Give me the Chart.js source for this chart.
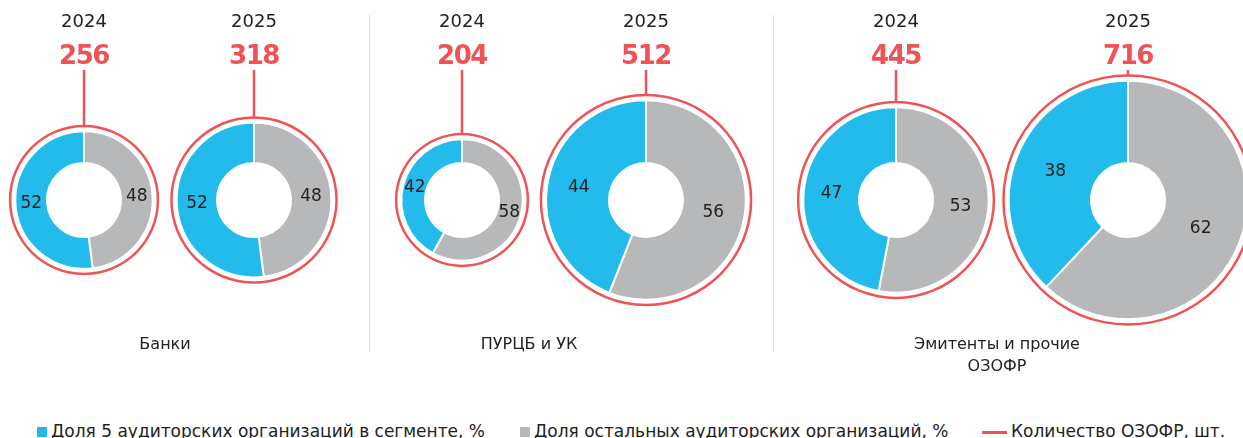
<!DOCTYPE html>
<html>
<head>
<meta charset="utf-8">
<script src="https://cdn.jsdelivr.net/npm/chart.js@4/dist/chart.umd.min.js"></script>
<style>
  html, body { margin: 0; padding: 0; background: #fff; overflow: hidden; }
  body { width: 1243px; height: 438px; position: relative; font-family: "DejaVu Sans", sans-serif; color: #222; }
  canvas { position: absolute; top: 0; }
  .year { position: absolute; top: 10px; font-size: 18px; transform: translateX(-50%); line-height: 22px; }
  .count { position: absolute; top: 38px; font-size: 26px; font-weight: bold; color: #ee5356; letter-spacing: -1.5px; transform: translateX(-50%); line-height: 34px; }
  .group { position: absolute; top: 333px; font-size: 16px; text-align: center; line-height: 22px; transform: translateX(-50%); }
  .sep { position: absolute; top: 15px; width: 1px; height: 337px; background: #dedede; }
  .legend { position: absolute; top: 420px; font-size: 17px; line-height: 22px; white-space: nowrap; }
  .legend i { display: inline-block; vertical-align: middle; margin-right: 4px; }
</style>
</head>
<body>
<div id="wrap"></div>
<script>
// data
const groups = ["Банки", "ПУРЦБ и УК", "Эмитенты и прочие<br>ОЗОФР"]
const years = ["2024", "2025", "2024", "2025", "2024", "2025"]
const counts = [256, 318, 204, 512, 445, 716]
const top5 = [52, 52, 42, 44, 47, 38]
const others = [48, 48, 58, 56, 53, 62]

const legendLabels = [
  "Доля 5 аудиторских организаций в сегменте, %",
  "Доля остальных аудиторских организаций, %",
  "Количество ОЗОФР, шт.",
]

// colors
const blue = "#22bbec"
const gray = "#b7b8ba"
const red = "#ee5356"

// layout
const centersX = [84, 254, 462, 646, 896, 1128]
const groupX = [165, 529, 997]
const sepX = [369, 773]
const holeR = 37
const W = 270
const H = 400

const wrap = document.querySelector("#wrap")

// labels inside slices + line to the number
const slicePlugin = {
  id: "slicePlugin",
  afterDraw(chart) {
    const ctx = chart.ctx
    const meta = chart.getDatasetMeta(2)
    const ring = chart.getDatasetMeta(0).data[0]
    ctx.save()
    ctx.strokeStyle = red
    ctx.lineWidth = 2.5
    ctx.beginPath()
    ctx.moveTo(ring.x, 70)
    ctx.lineTo(ring.x, ring.y - ring.outerRadius + 1)
    ctx.stroke()
    ctx.font = "17px 'DejaVu Sans'"
    ctx.fillStyle = "#222"
    ctx.textAlign = "center"
    ctx.textBaseline = "middle"
    meta.data.forEach((arc, i) => {
      const p = arc.tooltipPosition()
      ctx.fillText(chart.data.datasets[2].data[i], p.x, p.y)
    })
    ctx.restore()
  },
}

for (let i = 0; i < counts.length; i++) {
  const R = 4.7 * Math.sqrt(counts[i])
  const canvas = document.createElement("canvas")
  canvas.width = W
  canvas.height = H
  canvas.style.left = centersX[i] - W / 2 + "px"
  wrap.appendChild(canvas)

  new Chart(canvas, {
    type: "doughnut",
    data: {
      labels: ["others", "top5"],
      datasets: [
        { data: [1], backgroundColor: [red], borderWidth: 0, weight: 2.5 },
        { data: [1], backgroundColor: ["rgba(0,0,0,0)"], borderWidth: 0, weight: 4 },
        {
          data: [others[i], top5[i]],
          backgroundColor: [gray, blue],
          borderColor: "#fff",
          borderWidth: 2,
          weight: R - holeR - 6.5,
        },
      ],
    },
    options: {
      responsive: false,
      animation: false,
      events: [],
      radius: R,
      cutout: (holeR / R) * 100 + "%",
      plugins: { legend: { display: false }, tooltip: { enabled: false } },
    },
    plugins: [slicePlugin],
  })

  const y = document.createElement("div")
  y.className = "year"
  y.style.left = centersX[i] + "px"
  y.textContent = years[i]
  wrap.appendChild(y)

  const c = document.createElement("div")
  c.className = "count"
  c.style.left = centersX[i] + "px"
  c.textContent = counts[i]
  wrap.appendChild(c)
}

groups.forEach((g, i) => {
  const d = document.createElement("div")
  d.className = "group"
  d.style.left = groupX[i] + "px"
  d.innerHTML = g
  wrap.appendChild(d)
})

sepX.forEach((x) => {
  const s = document.createElement("div")
  s.className = "sep"
  s.style.left = x + "px"
  wrap.appendChild(s)
})

// legend
const legendX = [37, 520, 982]
const legendMarks = [
  `<i style="width:10px;height:10px;background:${blue}"></i>`,
  `<i style="width:10px;height:10px;background:${gray}"></i>`,
  `<i style="width:25px;height:3px;background:${red}"></i>`,
]
legendLabels.forEach((t, i) => {
  const l = document.createElement("div")
  l.className = "legend"
  l.style.left = legendX[i] + "px"
  l.innerHTML = legendMarks[i] + t
  wrap.appendChild(l)
})
</script>
</body>
</html>
